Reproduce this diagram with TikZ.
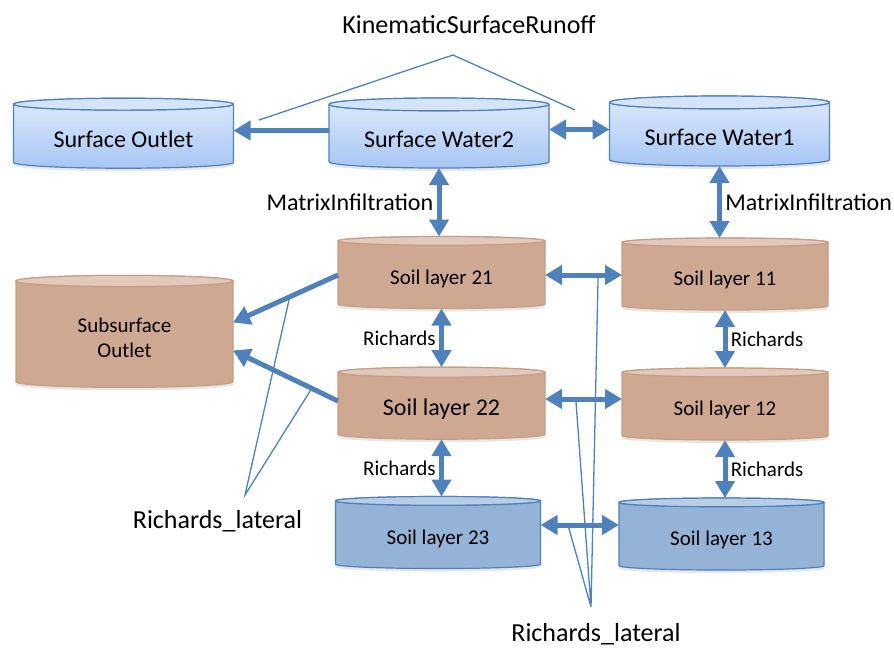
\documentclass[tikz,border=0pt]{standalone}
\usepackage{fontspec}
\setmainfont{Carlito}
\usetikzlibrary{shapes.geometric}
\usetikzlibrary{arrows.meta}
\usetikzlibrary{shadows}
\usetikzlibrary{calc}
\definecolor{flowblue}{RGB}{79,129,189}
\definecolor{waterhi}{RGB}{222,234,251}
\definecolor{waterlo}{RGB}{167,198,245}
\definecolor{watercap}{RGB}{214,228,250}
\definecolor{soil}{RGB}{207,168,146}
\definecolor{soilcap}{RGB}{226,201,187}
\definecolor{soilline}{RGB}{199,157,134}
\definecolor{deep}{RGB}{149,179,215}
\definecolor{deepcap}{RGB}{185,205,229}
\tikzset{
tank/.style={ % Sets the properties for each store
cylinder, shape border rotate=90, aspect=0.085,
inner sep=0pt, outer sep=0pt, line width=1.2pt,
text height=18pt, text depth=0pt, % pushes the text a little below the middle
drop shadow={shadow xshift=0pt, shadow yshift=-3pt, opacity=.2}},
water/.style={tank, draw=flowblue, top color=waterhi, bottom color=waterlo,
minimum width=220pt, minimum height=70pt, text height=22pt, font=\fontsize{24}{28}\selectfont},
soilbox/.style={tank, draw=soilline, fill=soil,
minimum width=207pt, minimum height=72pt, font=\fontsize{21}{25}\selectfont},
deepbox/.style={tank, draw=flowblue, fill=deep,
minimum width=205pt, minimum height=72pt, font=\fontsize{21}{25}\selectfont},
flux/.style={draw=flowblue, line width=5pt, -{Triangle[length=17pt,width=19pt]}},
flux2/.style={flux, {Triangle[length=17pt,width=19pt]}-{Triangle[length=17pt,width=19pt]}},
leader/.style={draw=flowblue, line width=1.3pt},
tag/.style={font=\fontsize{21}{25}\selectfont},
midtag/.style={font=\fontsize{24}{28}\selectfont},
bigtag/.style={font=\fontsize{26}{30}\selectfont}}
\begin{document}
\begin{tikzpicture}[x=1pt, y=-1pt]
\useasboundingbox (0,0) rectangle (894,648);
% stores
\node[water] (SO) at (123.5,136.5) {Surface Outlet};
\node[water] (SW2) at (439,136.5) {Surface Water2};
\node[water] (SW1) at (719.5,134.5) {Surface Water1};
\node[soilbox, minimum width=217pt, minimum height=112pt, aspect=0.12, align=center,
  text height=45pt] (SSO) at (124.5,334.5) {Subsurface\\Outlet};
\node[soilbox] (S21) at (441.5,275) {Soil layer 21};
\node[soilbox, font=\fontsize{24}{28}\selectfont] (S22) at (441.5,406) {Soil layer 22};
\node[deepbox] (S23) at (438,535) {Soil layer 23};
\node[soilbox, minimum width=206pt] (S11) at (725,276.5) {Soil layer 11};
\node[soilbox, minimum width=206pt] (S12) at (725,406.5) {Soil layer 12};
\node[deepbox] (S13) at (721.5,536.5) {Soil layer 13};
% lids
\foreach \tk/\lid/\rim in {SO/watercap/flowblue, SW2/watercap/flowblue, SW1/watercap/flowblue,
  SSO/soilcap/soilline, S21/soilcap/soilline, S22/soilcap/soilline, S11/soilcap/soilline,
  S12/soilcap/soilline, S23/deepcap/flowblue, S13/deepcap/flowblue}
  \draw[draw=\rim, fill=\lid, line width=1.2pt] let \p1=(\tk.before top), \p2=(\tk.after top), \p3=(\tk.top) in
    ($(\p1)!.5!(\p2)$) ellipse [x radius={abs(\x2-\x1)/2}, y radius={abs(\y3-(\y1+\y2)/2)}];
% fluxes
\draw[flux] ([yshift=6pt]SW2.west) -- ([yshift=6pt]SW2.west -| SO.east);
\draw[flux2] ([yshift=7pt]SW2.east) -- ([yshift=7pt]SW2.east -| SW1.west);
\draw[flux2] (SW2.south) -- (SW2.south |- S21.north) node[midway, left, midtag] {MatrixInfiltration};
\draw[flux2] (SW1.south) -- (SW1.south |- S11.north) node[midway, right, midtag] {MatrixInfiltration};
\draw[flux2] (S21.south) -- (S21.south |- S22.north) node[midway, left, tag] {Richards};
\draw[flux2] (S11.south) -- (S11.south |- S12.north) node[midway, right, tag] {Richards};
\draw[flux2] (S22.south) -- (S22.south |- S23.north) node[midway, left, tag] {Richards};
\draw[flux2] (S12.south) -- (S12.south |- S13.north) node[midway, right, tag] {Richards};
\draw[flux2] (S21.east) -- coordinate[pos=.69] (r1) (S21.east -| S11.west);
\draw[flux2] ([yshift=7pt]S22.east) -- coordinate[pos=.40] (r2) ([yshift=7pt]S22.east -| S12.west);
\draw[flux2] ([yshift=10pt]S23.east) -- coordinate[pos=.35] (r3) ([yshift=10pt]S23.east -| S13.west);
\draw[flux] (S21.west) -- coordinate[pos=.46] (q1) ([yshift=12pt]SSO.east);
\draw[flux] ([yshift=5pt]S22.west) -- coordinate[pos=.25] (q2) ([yshift=-16pt]SSO.east);
% labels
\node[bigtag, anchor=base] (ksr) at (469,33) {KinematicSurfaceRunoff};
\coordinate (ksrtip) at (453,55);
\coordinate (k1) at (259,120);
\coordinate (k2) at (575,110);
\draw[leader] (k1) -- (ksrtip) -- (k2);
\node[bigtag, anchor=base] (latL) at (217.5,528) {Richards\_lateral};
\coordinate (latLtip) at (245,495);
\draw[leader] (q1) -- (latLtip) -- (q2);
\node[bigtag, anchor=base] (latB) at (596,641) {Richards\_lateral};
\coordinate (latBtip) at (591,607);
\draw[leader] (r1) -- (latBtip) (r2) -- (latBtip) (r3) -- (latBtip);
\end{tikzpicture}
\end{document}
